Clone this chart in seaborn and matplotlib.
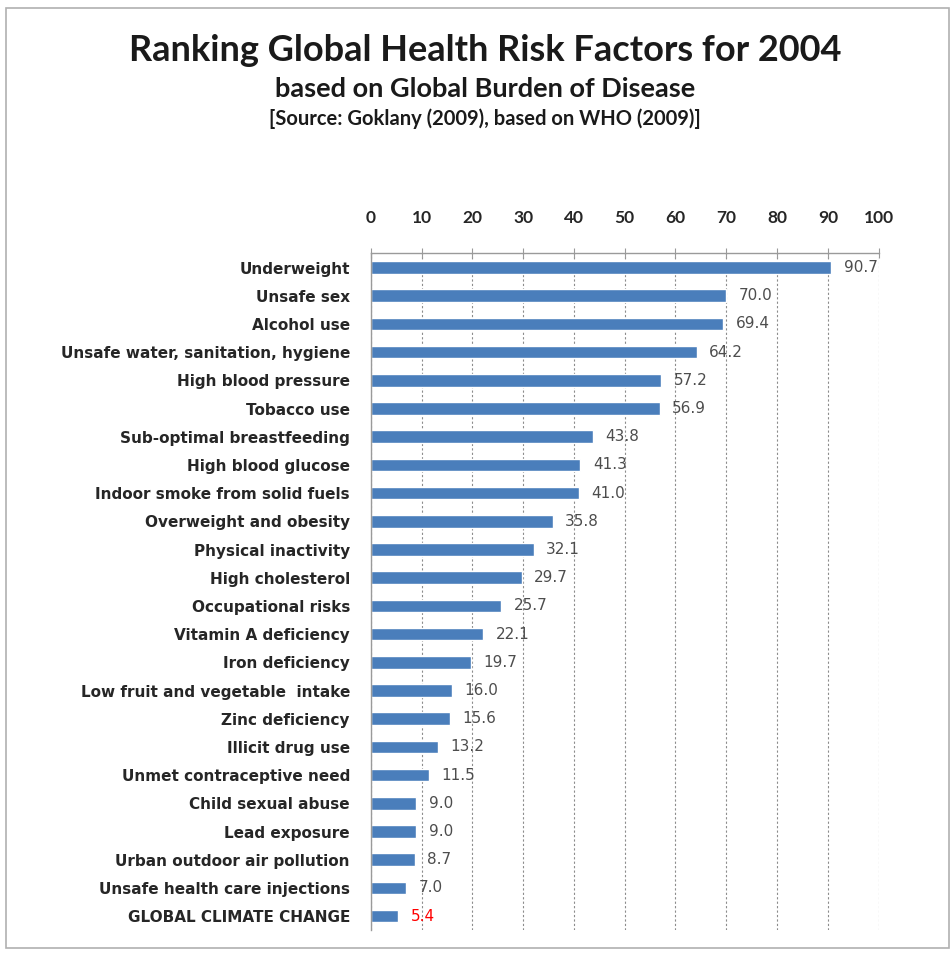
import seaborn as sns
import pandas as pd
import matplotlib.pyplot as plt
from matplotlib.patches import Rectangle

factors = ["Underweight", "Unsafe sex", "Alcohol use",
           "Unsafe water, sanitation, hygiene", "High blood pressure",
           "Tobacco use", "Sub-optimal breastfeeding", "High blood glucose",
           "Indoor smoke from solid fuels", "Overweight and obesity",
           "Physical inactivity", "High cholesterol", "Occupational risks",
           "Vitamin A deficiency", "Iron deficiency",
           "Low fruit and vegetable  intake", "Zinc deficiency",
           "Illicit drug use", "Unmet contraceptive need",
           "Child sexual abuse", "Lead exposure", "Urban outdoor air pollution",
           "Unsafe health care injections", "GLOBAL CLIMATE CHANGE"]
values = [90.7, 70.0, 69.4, 64.2, 57.2, 56.9, 43.8, 41.3, 41.0, 35.8, 32.1,
          29.7, 25.7, 22.1, 19.7, 16.0, 15.6, 13.2, 11.5, 9.0, 9.0, 8.7, 7.0, 5.4]
xticks = [0, 10, 20, 30, 40, 50, 60, 70, 80, 90, 100]

df = pd.DataFrame({"factor": factors, "value": values})

sns.set_style("white")
plt.rcParams['font.family'] = ['Lato', 'DejaVu Sans']

fig = plt.figure(figsize=(9.53, 9.60), dpi=100)
ax = fig.add_axes([0.389, 0.031, 0.533, 0.705])

sns.barplot(data=df, x="value", y="factor", orient="h", color="#4a7ebb",
            saturation=1, width=0.45, ax=ax)

ax.set_xlim(0, 100)
ax.set_ylim(len(factors) - 0.5, -0.5)
ax.xaxis.tick_top()
ax.set_xticks(xticks)
ax.set_xticklabels([str(t) for t in xticks], fontsize=12.5, fontweight="bold",
                   color="#262626")
ax.tick_params(axis="x", direction="inout", length=7, color="#9a9a9a", pad=16)
ax.set_xlabel("")
ax.set_ylabel("")
ax.xaxis.grid(True, linestyle=(0, (2, 2)), color="#8c8c8c", linewidth=0.8)
ax.set_axisbelow(True)

ax.set_yticks(range(len(factors)))
ax.set_yticklabels(factors, fontsize=11, fontweight="bold", color="#262626",
                   family="DejaVu Sans")
ax.tick_params(axis="y", length=0, pad=15)
ax.set_yticks([i + 0.5 for i in range(-1, len(factors))], minor=True)
ax.tick_params(axis="y", which="minor", direction="out", length=5,
               color="#9a9a9a")

for s in ["right", "bottom"]:
    ax.spines[s].set_visible(False)
for s in ["top", "left"]:
    ax.spines[s].set_color("#9a9a9a")
    ax.spines[s].set_linewidth(1)

for i, v in enumerate(values):
    col = "red" if i == len(values) - 1 else "#4d4d4d"
    ax.annotate(f"{v:.1f}", (v, i), xytext=(9, 0), textcoords="offset points",
                va="center", ha="left", fontsize=11, color=col,
                family="DejaVu Sans")

fig.text(0.509, 0.947, "Ranking Global Health Risk Factors for 2004",
         ha="center", va="center", fontsize=26, fontweight="bold",
         color="#1a1a1a")
fig.text(0.509, 0.907, "based on Global Burden of Disease", ha="center",
         va="center", fontsize=19.5, fontweight="bold", color="#1a1a1a")
fig.text(0.509, 0.876, "[Source: Goklany (2009), based on WHO (2009)]",
         ha="center", va="center", fontsize=14.5, fontweight="bold",
         color="#1a1a1a")

fig.patches.append(Rectangle((0.006, 0.012), 0.99, 0.98,
                             transform=fig.transFigure, fill=False,
                             edgecolor="#b0b0b0", linewidth=1.2))

fig.savefig("out.png", dpi=100, facecolor="white")
